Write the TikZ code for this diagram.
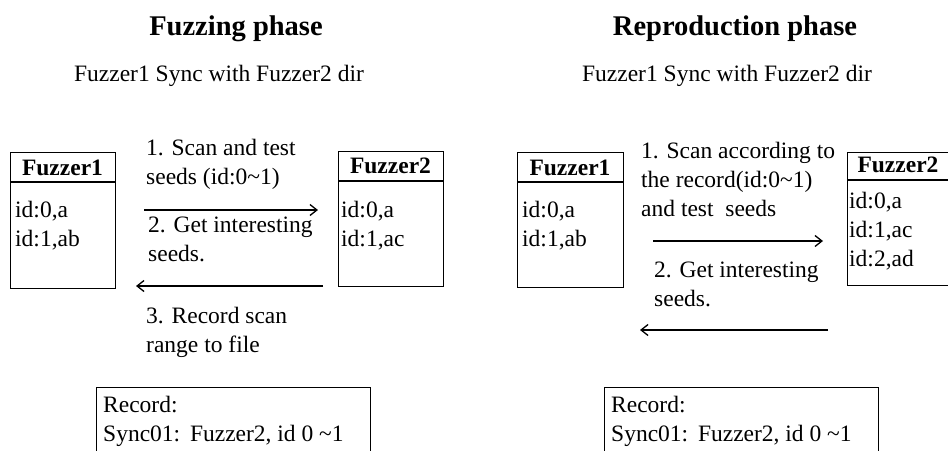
\documentclass[tikz,border=0pt]{standalone}
\usepackage{fontspec}
\setmainfont{Liberation Serif}
\usetikzlibrary{arrows.meta}
\begin{document}
\begin{tikzpicture}[x=1pt,y=-1pt,
  body/.style={font=\fontsize{23.5}{29}\selectfont, inner sep=0pt, align=left, anchor=north west},
  ttl/.style={font=\fontsize{28.5}{32}\selectfont\bfseries, inner sep=0pt, anchor=base},
  sub/.style={font=\fontsize{23.5}{29}\selectfont, inner sep=0pt, anchor=base},
  hdr/.style={font=\fontsize{23.5}{29}\selectfont\bfseries, inner sep=0pt, anchor=base},
  box/.style={draw, line width=1.3pt, inner sep=0pt, anchor=north west},
  sep/.style={line width=1.3pt},
  arr/.style={line width=1.3pt, -{Straight Barb[length=7pt,width=11pt,line width=1.3pt]}}]
\useasboundingbox (0,0) rectangle (948,450);

% ---------- Fuzzing phase ----------
\node[ttl] (t1) at (236,35) {Fuzzing phase};
\node[sub] (s1) at (219,81) {Fuzzer1 Sync with Fuzzer2 dir};

\node[box, minimum width=105pt, minimum height=136pt] (a1) at (10,152) {};
\draw[sep] (10,182) -- (115,182);
\node[hdr] (a1h) at (62.5,175) {Fuzzer1};
\node[body] (a1t) at (15,196.7) {\strut id:0,a\\id:1,ab};

\node[box, minimum width=105pt, minimum height=135pt] (b1) at (338,151) {};
\draw[sep] (338,181) -- (443,181);
\node[hdr] (b1h) at (390.5,173) {Fuzzer2};
\node[body] (b1t) at (341,196.7) {\strut id:0,a\\id:1,ac};

\coordinate (r1s) at (144,210);
\coordinate (r1e) at (318,210);
\draw[arr] (r1s) -- (r1e);
\coordinate (l1s) at (323,286);
\coordinate (l1e) at (136,286);
\draw[arr] (l1s) -- (l1e);

\node[body] (m1) at (146,134.7) {\strut 1. Scan and test\\seeds (id:0\char`~1)};
\node[body] (m2) at (148,211.7) {\strut 2. Get interesting\\seeds.};
\node[body] (m3) at (146,302.7) {\strut 3. Record scan\\range to file};

\node[box, minimum width=274pt, minimum height=80pt] (rec1) at (96,387) {};
\node[body] (rec1t) at (103,391.7) {\strut Record:\\Sync01:\ \,Fuzzer2, id 0 \char`~1};

% ---------- Reproduction phase ----------
\node[ttl] (t2) at (735,35) {Reproduction phase};
\node[sub] (s2) at (727,81) {Fuzzer1 Sync with Fuzzer2 dir};

\node[box, minimum width=106pt, minimum height=135pt] (a2) at (517,152) {};
\draw[sep] (517,182) -- (623,182);
\node[hdr] (a2h) at (570,175) {Fuzzer1};
\node[body] (a2t) at (522,196.7) {\strut id:0,a\\id:1,ab};

\node[box, minimum width=106pt, minimum height=133pt] (b2) at (847,152) {};
\draw[sep] (847,180) -- (953,180);
\node[hdr] (b2h) at (898,172) {Fuzzer2};
\node[body] (b2t) at (849,187.7) {\strut id:0,a\\id:1,ac\\id:2,ad};

\coordinate (r2s) at (653,241);
\coordinate (r2e) at (823,241);
\draw[arr] (r2s) -- (r2e);
\coordinate (l2s) at (828,330);
\coordinate (l2e) at (640,330);
\draw[arr] (l2s) -- (l2e);

\node[body] (n1) at (641,137.7) {\strut 1. Scan according to\\the record(id:0\char`~1)\\and test\ \ seeds};
\node[body] (n2) at (654,256.7) {\strut 2. Get interesting\\seeds.};

\node[box, minimum width=274pt, minimum height=80pt] (rec2) at (604,387) {};
\node[body] (rec2t) at (611,391.7) {\strut Record:\\Sync01:\ \,Fuzzer2, id 0 \char`~1};
\end{tikzpicture}
\end{document}
